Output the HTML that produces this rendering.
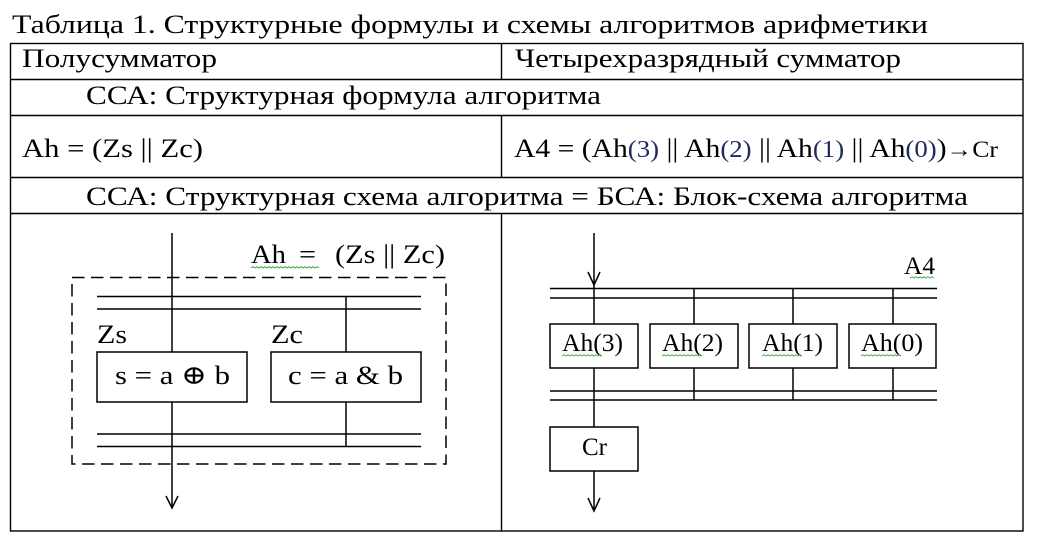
<!DOCTYPE html>
<html><head><meta charset="utf-8"><style>
html,body{margin:0;padding:0;background:#fff;}
svg{display:block;}
text{font-family:"Liberation Serif","Times New Roman","DejaVu Serif",serif;fill:#000;}
</style></head><body>
<svg width="1039" height="540" viewBox="0 0 1039 540" xmlns="http://www.w3.org/2000/svg">
<rect width="1039" height="540" fill="#fff"/>
<!-- Title -->
<text x="12" y="33" font-size="26.5" textLength="916" lengthAdjust="spacingAndGlyphs">Таблица 1. Структурные формулы и схемы алгоритмов арифметики</text>
<!-- Table grid -->
<g stroke="#000" stroke-width="1.4" fill="none">
<rect x="10.5" y="43.5" width="1012.5" height="487.5"/>
<line x1="10" y1="79.5" x2="1023" y2="79.5"/>
<line x1="10" y1="115.5" x2="1023" y2="115.5"/>
<line x1="10" y1="177.5" x2="1023" y2="177.5"/>
<line x1="10" y1="213.5" x2="1023" y2="213.5"/>
<line x1="501.5" y1="43" x2="501.5" y2="79"/>
<line x1="501.5" y1="115" x2="501.5" y2="177"/>
<line x1="501.5" y1="213" x2="501.5" y2="531"/>
</g>
<!-- Row texts -->
<text x="22" y="67" font-size="26.5" textLength="195" lengthAdjust="spacingAndGlyphs">Полусумматор</text>
<text x="515" y="67" font-size="26.5" textLength="386" lengthAdjust="spacingAndGlyphs">Четырехразрядный сумматор</text>
<text x="86" y="104" font-size="26.5" textLength="515" lengthAdjust="spacingAndGlyphs">ССА: Структурная формула алгоритма</text>
<text x="22" y="157" font-size="26.5" textLength="181" lengthAdjust="spacingAndGlyphs">Ah = (Zs || Zc)</text>
<text x="514" y="157" font-size="26.5" textLength="484" lengthAdjust="spacingAndGlyphs">A4 = (Ah<tspan font-size="24" fill="#1c2a5c">(3)</tspan> || Ah<tspan font-size="24" fill="#1c2a5c">(2)</tspan> || Ah<tspan font-size="24" fill="#1c2a5c">(1)</tspan> || Ah<tspan font-size="24" fill="#1c2a5c">(0)</tspan>)<tspan font-size="23">→Cr</tspan></text>
<text x="86" y="205" font-size="26.5" textLength="882" lengthAdjust="spacingAndGlyphs">ССА: Структурная схема алгоритма = БСА: Блок-схема алгоритма</text>

<!-- Left diagram -->
<g stroke="#000" stroke-width="1.5" fill="none">
<rect x="72" y="277.5" width="374" height="186.5" stroke-dasharray="12.5 6.5"/>
<line x1="97" y1="296.5" x2="421" y2="296.5"/>
<line x1="97" y1="309" x2="421" y2="309"/>
<line x1="97" y1="434" x2="421" y2="434"/>
<line x1="97" y1="446.5" x2="421" y2="446.5"/>
<line x1="172" y1="233" x2="172" y2="352"/>
<line x1="172" y1="402" x2="172" y2="508"/>
<polyline points="166,496 172,508 178,496"/>
<line x1="346" y1="296.5" x2="346" y2="352"/>
<line x1="346" y1="402" x2="346" y2="446.5"/>
<rect x="97" y="352" width="150" height="50"/>
<rect x="271" y="352" width="150" height="50"/>
</g>
<text x="251" y="263" font-size="26.5" textLength="35" lengthAdjust="spacingAndGlyphs">Ah</text>
<text x="299" y="263" font-size="26.5" textLength="17" lengthAdjust="spacingAndGlyphs">=</text>
<text x="335" y="263" font-size="26.5" textLength="110" lengthAdjust="spacingAndGlyphs">(Zs || Zc)</text>
<polyline points="251,268 253,266.5 255,268 257,266.5 259,268 261,266.5 263,268 265,266.5 267,268 269,266.5 271,268 273,266.5 275,268 277,266.5 279,268 281,266.5 283,268 285,266.5 287,268 289,266.5 291,268 293,266.5 295,268 297,266.5 299,268 301,266.5 303,268 305,266.5 307,268 309,266.5 311,268 313,266.5 315,268 317,266.5 319,268" fill="none" stroke="#3aa63a" stroke-width="0.9"/>
<text x="97" y="343" font-size="26.5" textLength="30" lengthAdjust="spacingAndGlyphs">Zs</text>
<text x="271" y="343" font-size="26.5" textLength="32" lengthAdjust="spacingAndGlyphs">Zc</text>
<text x="115" y="384" font-size="26.5" textLength="115" lengthAdjust="spacingAndGlyphs">s = a ⊕ b</text>
<text x="288" y="384" font-size="26.5" textLength="115" lengthAdjust="spacingAndGlyphs">c = a &amp; b</text>

<!-- Right diagram -->
<g stroke="#000" stroke-width="1.5" fill="none">
<line x1="550" y1="288.5" x2="937" y2="288.5"/>
<line x1="550" y1="298" x2="937" y2="298"/>
<line x1="550" y1="391" x2="937" y2="391"/>
<line x1="550" y1="400" x2="937" y2="400"/>
<line x1="594" y1="233" x2="594" y2="324"/>
<polyline points="588,272 594,285 600,272"/>
<line x1="694" y1="288.5" x2="694" y2="324"/>
<line x1="793" y1="288.5" x2="793" y2="324"/>
<line x1="893" y1="288.5" x2="893" y2="324"/>
<rect x="550" y="324" width="88" height="44"/>
<rect x="650" y="324" width="88" height="44"/>
<rect x="749" y="324" width="88" height="44"/>
<rect x="849" y="324" width="87" height="44"/>
<line x1="594" y1="368" x2="594" y2="427"/>
<line x1="694" y1="368" x2="694" y2="400"/>
<line x1="793" y1="368" x2="793" y2="400"/>
<line x1="893" y1="368" x2="893" y2="400"/>
<rect x="550" y="427" width="88" height="44"/>
<line x1="594" y1="471" x2="594" y2="511"/>
<polyline points="588,498 594,511 600,498"/>
</g>
<text x="904" y="274" font-size="25.5" textLength="31" lengthAdjust="spacingAndGlyphs">A4</text>
<text x="562" y="351" font-size="25.5" textLength="61" lengthAdjust="spacingAndGlyphs">Ah(3)</text>
<text x="662" y="351" font-size="25.5" textLength="61" lengthAdjust="spacingAndGlyphs">Ah(2)</text>
<text x="762" y="351" font-size="25.5" textLength="61" lengthAdjust="spacingAndGlyphs">Ah(1)</text>
<text x="861" y="351" font-size="25.5" textLength="62" lengthAdjust="spacingAndGlyphs">Ah(0)</text>
<text x="582" y="455" font-size="25.5" textLength="25" lengthAdjust="spacingAndGlyphs">Cr</text>
<g fill="none" stroke="#3aa63a" stroke-width="0.9">
<polyline points="910,278 912,276.8 914,278 916,276.8 918,278 920,276.8 922,278 924,276.8 926,278 928,276.8 930,278 932,276.8 934,278"/>
<polyline points="562,356 564,354.8 566,356 568,354.8 570,356 572,354.8 574,356 576,354.8 578,356 580,354.8 582,356 584,354.8 586,356 588,354.8 590,356 592,354.8 594,356 596,354.8 598,356 600,354.8 602,356"/>
<polyline points="662,356 664,354.8 666,356 668,354.8 670,356 672,354.8 674,356 676,354.8 678,356 680,354.8 682,356 684,354.8 686,356 688,354.8 690,356 692,354.8 694,356 696,354.8 698,356 700,354.8 702,356"/>
<polyline points="762,356 764,354.8 766,356 768,354.8 770,356 772,354.8 774,356 776,354.8 778,356 780,354.8 782,356 784,354.8 786,356 788,354.8 790,356 792,354.8 794,356 796,354.8 798,356 800,354.8 802,356"/>
<polyline points="861,356 863,354.8 865,356 867,354.8 869,356 871,354.8 873,356 875,354.8 877,356 879,354.8 881,356 883,354.8 885,356 887,354.8 889,356 891,354.8 893,356 895,354.8 897,356 899,354.8 901,356"/>
</g>
</svg>
</body></html>
